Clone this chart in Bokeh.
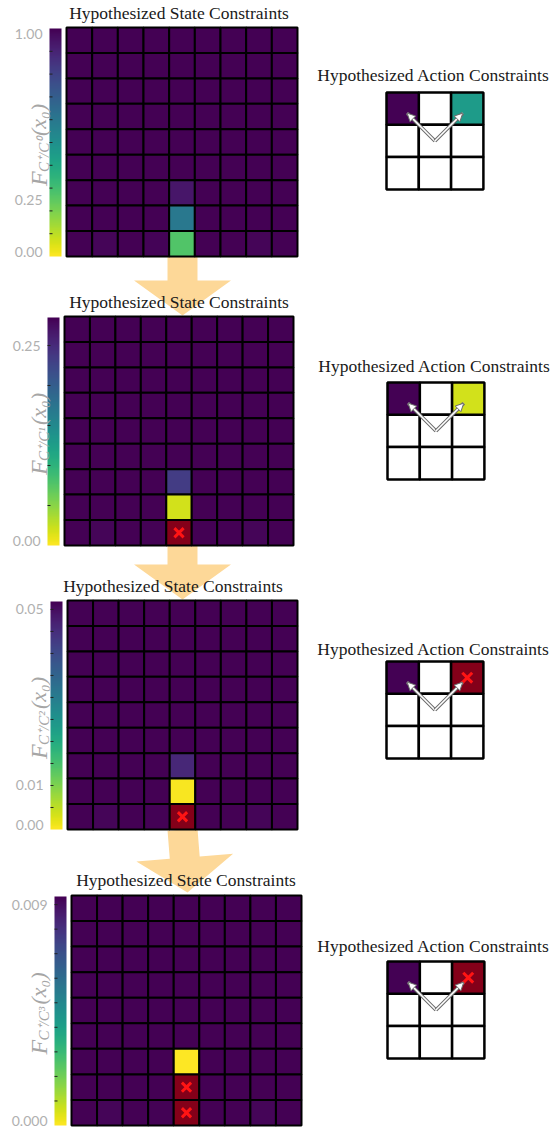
import math
import numpy as np
from bokeh.plotting import figure
from bokeh.models import Range1d, ColumnDataSource, LinearColorMapper, Arrow, NormalHead
from bokeh.palettes import Viridis256
from bokeh.core.properties import value
from bokeh.embed import file_html
from bokeh.resources import INLINE

nan = float("nan")

# ---------------- data ----------------
state_title = "Hypothesized State Constraints"
action_title = "Hypothesized Action Constraints"
iteration_sup = ["⁰", "¹", "²", "³"]

cbar_high = [1.0, 0.285, 0.0518, 0.00933]
cbar_step = [0.1, 0.05, 0.005, 0.001]
cbar_ticks = [[1.0, 0.25, 0.0], [0.25, 0.0], [0.05, 0.01, 0.0], [0.009, 0.0]]
cbar_tick_labels = [["1.00", "0.25", "0.00"], ["0.25", "0.00"],
                    ["0.05", "0.01", "0.00"], ["0.009", "0.000"]]

state_values_1 = [
    [1.00, 1.00, 1.00, 1.00, 1.00, 1.00, 1.00, 1.00, 1.00],
    [1.00, 1.00, 1.00, 1.00, 1.00, 1.00, 1.00, 1.00, 1.00],
    [1.00, 1.00, 1.00, 1.00, 1.00, 1.00, 1.00, 1.00, 1.00],
    [1.00, 1.00, 1.00, 1.00, 1.00, 1.00, 1.00, 1.00, 1.00],
    [1.00, 1.00, 1.00, 1.00, 1.00, 1.00, 1.00, 1.00, 1.00],
    [1.00, 1.00, 1.00, 1.00, 1.00, 1.00, 1.00, 1.00, 1.00],
    [1.00, 1.00, 1.00, 1.00, 0.94, 1.00, 1.00, 1.00, 1.00],
    [1.00, 1.00, 1.00, 1.00, 0.60, 1.00, 1.00, 1.00, 1.00],
    [1.00, 0.985, 1.00, 0.992, 0.27, 1.00, 1.00, 0.985, 1.00],
]
state_values_2 = [
    [0.29, 0.29, 0.29, 0.29, 0.29, 0.29, 0.29, 0.29, 0.29],
    [0.29, 0.29, 0.29, 0.29, 0.29, 0.29, 0.29, 0.29, 0.29],
    [0.29, 0.29, 0.29, 0.29, 0.29, 0.29, 0.29, 0.29, 0.29],
    [0.29, 0.29, 0.29, 0.29, 0.29, 0.29, 0.29, 0.29, 0.29],
    [0.29, 0.29, 0.29, 0.29, 0.29, 0.29, 0.29, 0.29, 0.29],
    [0.29, 0.29, 0.29, 0.29, 0.29, 0.29, 0.29, 0.29, 0.29],
    [0.29, 0.29, 0.29, 0.29, 0.234, 0.29, 0.29, 0.29, 0.29],
    [0.29, 0.29, 0.29, 0.29, 0.020, 0.29, 0.29, 0.29, 0.29],
    [0.29, 0.281, 0.29, 0.283, nan, 0.29, 0.29, 0.281, 0.29],
]
state_values_3 = [
    [0.052, 0.052, 0.052, 0.052, 0.052, 0.052, 0.052, 0.052, 0.052],
    [0.052, 0.052, 0.052, 0.052, 0.052, 0.052, 0.052, 0.052, 0.052],
    [0.052, 0.052, 0.052, 0.052, 0.052, 0.052, 0.052, 0.052, 0.052],
    [0.052, 0.052, 0.052, 0.052, 0.052, 0.052, 0.052, 0.052, 0.052],
    [0.052, 0.052, 0.052, 0.052, 0.052, 0.052, 0.052, 0.052, 0.052],
    [0.052, 0.052, 0.052, 0.052, 0.052, 0.052, 0.052, 0.052, 0.052],
    [0.052, 0.052, 0.052, 0.052, 0.046, 0.052, 0.052, 0.052, 0.052],
    [0.052, 0.052, 0.052, 0.052, 0.0005, 0.052, 0.052, 0.052, 0.052],
    [0.052, 0.0511, 0.052, 0.0515, nan, 0.052, 0.052, 0.0511, 0.052],
]
state_values_4 = [
    [0.0094, 0.0094, 0.0094, 0.0094, 0.0094, 0.0094, 0.0094, 0.0094, 0.0094],
    [0.0094, 0.0094, 0.0094, 0.0094, 0.0094, 0.0094, 0.0094, 0.0094, 0.0094],
    [0.0094, 0.0094, 0.0094, 0.0094, 0.0094, 0.0094, 0.0094, 0.0094, 0.0094],
    [0.0094, 0.0094, 0.0094, 0.0094, 0.0094, 0.0094, 0.0094, 0.0094, 0.0094],
    [0.0094, 0.0094, 0.0094, 0.0094, 0.0094, 0.0094, 0.0094, 0.0094, 0.0094],
    [0.0094, 0.0094, 0.0094, 0.0094, 0.0094, 0.0094, 0.0094, 0.0094, 0.0094],
    [0.0094, 0.0094, 0.0094, 0.0094, 0.0000, 0.0094, 0.0094, 0.0094, 0.0094],
    [0.0094, 0.0094, 0.0094, 0.0094, nan, 0.0094, 0.0094, 0.0094, 0.0094],
    [0.0094, 0.00919, 0.0094, 0.00926, nan, 0.0094, 0.0094, 0.00919, 0.0094],
]
state_values = [state_values_1, state_values_2, state_values_3, state_values_4]

# action constraint grids (None = not a candidate, nan = eliminated)
action_values_1 = [[1.00, None, 0.45], [None, None, None], [None, None, None]]
action_values_2 = [[0.29, None, 0.02], [None, None, None], [None, None, None]]
action_values_3 = [[0.052, None, nan], [None, None, None], [None, None, None]]
action_values_4 = [[0.0094, None, nan], [None, None, None], [None, None, None]]
action_values = [action_values_1, action_values_2, action_values_3, action_values_4]
action_moves = [(0, 0), (0, 2)]   # target cells of the two drawn actions (from centre cell)

# ---------------- layout (page pixels) ----------------
heat_boxes = [(66, 27, 297, 256), (64, 316, 293, 545), (67, 600, 297, 829), (71, 895, 301, 1125)]
state_title_pos = [(178.5, 12), (178.5, 301), (172.5, 585.5), (185.5, 879.5)]
action_title_pos = [(433, 74), (434, 365), (433, 648), (433, 945)]
action_boxes = [(386, 92), (387, 382), (386, 661), (387, 961)]
action_cell = 32.3
big_arrows = [((182, 256), (182, 315)), ((182, 545), (182, 599)), ((182, 829), (187, 892))]

PALETTE = list(reversed(Viridis256))
ELIM = "#840019"
SERIF = value("Liberation Serif")
SANS = value("Lato")


def Y(py):
    return 1135 - py


p = figure(width=553, height=1135, x_range=Range1d(0, 553), y_range=Range1d(0, 1135),
           output_backend="svg", toolbar_location=None, min_border=0,
           x_axis_location=None, y_axis_location=None)
p.grid.visible = False
p.outline_line_color = None
p.background_fill_color = "white"
p.border_fill_color = "white"

# big orange arrows between the stages
BW, HW, HL = 15, 48.5, 35
for (sx, sy), (tx, ty) in big_arrows:
    dx, dy = tx - sx, ty - sy
    L = math.hypot(dx, dy)
    ux, uy = dx / L, dy / L
    nx, ny = -uy, ux
    kx, ky = tx - ux * HL, ty - uy * HL
    pts = [(sx + nx * BW, sy + ny * BW), (kx + nx * BW, ky + ny * BW), (kx + nx * HW, ky + ny * HW),
           (tx, ty), (kx - nx * HW, ky - ny * HW), (kx - nx * BW, ky - ny * BW), (sx - nx * BW, sy - ny * BW)]
    p.patch([q[0] for q in pts], [Y(q[1]) for q in pts], fill_color="#fdd898", line_color=None)

for k in range(4):
    mapper = LinearColorMapper(palette=PALETTE, low=0.0, high=cbar_high[k], nan_color=ELIM)
    L, T, R, B = heat_boxes[k]
    cw, ch = (R - L) / 9.0, (B - T) / 9.0
    xs, ys, vs = [], [], []
    for r in range(9):
        for c in range(9):
            xs.append(L + (c + 0.5) * cw)
            ys.append(Y(T + (r + 0.5) * ch))
            vs.append(state_values[k][r][c])
    vs = np.array(vs, dtype=float)
    src = ColumnDataSource(dict(x=xs, y=ys, v=vs))
    p.rect("x", "y", width=cw, height=ch, source=src,
           fill_color={"field": "v", "transform": mapper}, line_color="black", line_width=2)
    bad = np.isnan(vs)
    p.scatter(np.array(xs)[bad], np.array(ys)[bad], marker="x", size=13,
              line_color="#ff1414", line_width=3)

    # colour bar
    cl, cr = L - 17, L - 5
    ct, cb = T + 1, B
    grad = np.linspace(0.0, cbar_high[k], 256).reshape(256, 1)
    p.image(image=[grad], x=cl, y=Y(cb), dw=cr - cl, dh=cb - ct, color_mapper=mapper)

    def cy(v, ct=ct, cb=cb, hi=cbar_high[k]):
        return cb - (v / hi) * (cb - ct)

    minor = []
    m = 1
    while m * cbar_step[k] < cbar_high[k] - 1e-12:
        minor.append(cy(m * cbar_step[k]))
        m += 1
    p.segment(x0=[cl] * len(minor), y0=[Y(v) for v in minor], x1=[cl + 3] * len(minor),
              y1=[Y(v) for v in minor], line_color="#222222", line_width=1)
    ty_ = [min(max(cy(v), ct + 5), cb - 5) for v in cbar_ticks[k]]
    p.text(x=[cl - 7] * len(ty_), y=[Y(v) for v in ty_], text=cbar_tick_labels[k],
           text_font=SANS, text_font_size="14px", text_color="#b0b0b0",
           text_align="right", text_baseline="middle")

    # rotated colour-bar label  F_{C+/C^k}(x0)
    mid = (T + B) / 2.0 + 4
    start = mid + 40
    base_x = 38
    p.text(x=[base_x], y=[Y(start)], text=["F"], angle=math.pi / 2, text_font=SERIF,
           text_font_style="italic", text_font_size="24px", text_color="#a6a6a6",
           text_align="left", text_baseline="alphabetic")
    p.text(x=[base_x + 5], y=[Y(start - 14)], text=["C⁺/C" + iteration_sup[k]], angle=math.pi / 2,
           text_font=SERIF, text_font_style="italic", text_font_size="15px", text_color="#a6a6a6",
           text_align="left", text_baseline="alphabetic")
    p.text(x=[base_x], y=[Y(start - 50)], text=["(x₀)"], angle=math.pi / 2, text_font=SERIF,
           text_font_style="italic", text_font_size="22px", text_color="#a6a6a6",
           text_align="left", text_baseline="alphabetic")

    # titles
    sx_, sy_ = state_title_pos[k]
    p.text(x=[sx_], y=[Y(sy_)], text=[state_title], text_font=SERIF, text_font_size="17.5px",
           text_color="#1a1a1a", text_align="center", text_baseline="middle")
    ax_, ay_ = action_title_pos[k]
    p.text(x=[ax_], y=[Y(ay_)], text=[action_title], text_font=SERIF, text_font_size="17.5px",
           text_color="#1a1a1a", text_align="center", text_baseline="middle")

    # action grid
    AL, AT = action_boxes[k]
    a = action_cell
    wx, wy, mx, my, mv = [], [], [], [], []
    for r in range(3):
        for c in range(3):
            v = action_values[k][r][c]
            x = AL + (c + 0.5) * a
            y = Y(AT + (r + 0.5) * a)
            if v is None:
                wx.append(x); wy.append(y)
            else:
                mx.append(x); my.append(y); mv.append(v)
    p.rect(wx, wy, width=a, height=a, fill_color="white", line_color="black", line_width=2.5)
    mv = np.array(mv, dtype=float)
    asrc = ColumnDataSource(dict(x=mx, y=my, v=mv))
    p.rect("x", "y", width=a, height=a, source=asrc,
           fill_color={"field": "v", "transform": mapper}, line_color="black", line_width=2.5)

    ox, oy = AL + 1.5 * a, AT + 1.5 * a
    for (tr, tc) in action_moves:
        tx = ox + ((tc + 0.5) * a + AL - ox) * 0.86
        tyy = oy + ((tr + 0.5) * a + AT - oy) * 0.86
        p.segment(x0=[ox], y0=[Y(oy)], x1=[tx], y1=[Y(tyy)], line_color="#6a6a6a", line_width=3.6)
        p.segment(x0=[ox], y0=[Y(oy)], x1=[tx], y1=[Y(tyy)], line_color="white", line_width=1.6)
        p.add_layout(Arrow(end=NormalHead(size=8, fill_color="white", line_color="#6a6a6a", line_width=1),
                           x_start=ox + (tx - ox) * 0.8, y_start=Y(oy + (tyy - oy) * 0.8),
                           x_end=tx, y_end=Y(tyy), line_alpha=0))
    bad_a = np.isnan(mv)
    p.scatter(np.array(mx)[bad_a], np.array(my)[bad_a], marker="x", size=14,
              line_color="#ff1414", line_width=3)

open("out.html", "w").write(file_html(p, INLINE))
